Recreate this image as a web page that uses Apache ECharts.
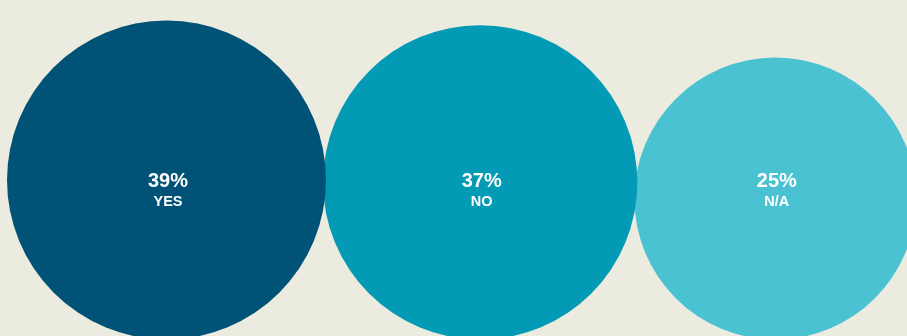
<!DOCTYPE html>
<html><head><meta charset="utf-8">
<script src="https://cdn.jsdelivr.net/npm/echarts@6/dist/echarts.min.js"></script>
<style>html,body{margin:0;padding:0;background:#ECEBDF;overflow:hidden}#c{width:907px;height:336px;}</style>
</head><body><div id="c"></div>
<script>
// ---- data ----
const categories = ['YES', 'NO', 'N/A'];
const percentValues = [39, 37, 25];

// ---- styles ----
const colors = ['#005277', '#029AB4', '#4BC2D1'];
const FONT = '"Liberation Sans", Arial, Helvetica, sans-serif';

// radius scale (power scale on value)
const maxV = Math.max.apply(null, percentValues);
function rScale(v) { return 159.5 * Math.pow(v / maxV, 0.278); }

const chart = echarts.init(document.getElementById('c'), null, {renderer: 'canvas'});

const LEFT = 7, BOTTOM = 339.5, OVERLAP = 3, LABEL_Y = 191.5;

chart.setOption({
  backgroundColor: '#ECEBDF',
  animation: false,
  series: [{
    type: 'custom',
    coordinateSystem: 'none',
    data: percentValues.map((v, i) => ({value: v, name: categories[i]})),
    renderItem: function (params, api) {
      const idx = params.dataIndex;
      let x = LEFT;
      for (let k = 0; k < idx; k++) x += 2 * rScale(percentValues[k]) - OVERLAP;
      const r = rScale(api.value(0));
      const cx = x + r;
      const cy = BOTTOM - r;
      return {
        type: 'group',
        children: [
          {
            type: 'circle',
            shape: {cx: cx, cy: cy, r: r},
            style: {fill: colors[idx]},
            z2: 10 - idx
          },
          {
            type: 'text',
            z2: 100,
            style: {
              text: api.value(0) + '%',
              x: cx + 1.5, y: LABEL_Y - 10,
              fill: '#ffffff',
              fontSize: 20, fontWeight: 'bold', fontFamily: FONT,
              align: 'center', verticalAlign: 'middle'
            }
          },
          {
            type: 'text',
            z2: 100,
            style: {
              text: categories[idx],
              x: cx + 1.5, y: LABEL_Y + 10,
              fill: '#ffffff',
              fontSize: 14.5, fontWeight: 'bold', fontFamily: FONT,
              align: 'center', verticalAlign: 'middle'
            }
          }
        ]
      };
    }
  }]
});
</script>
</body></html>
